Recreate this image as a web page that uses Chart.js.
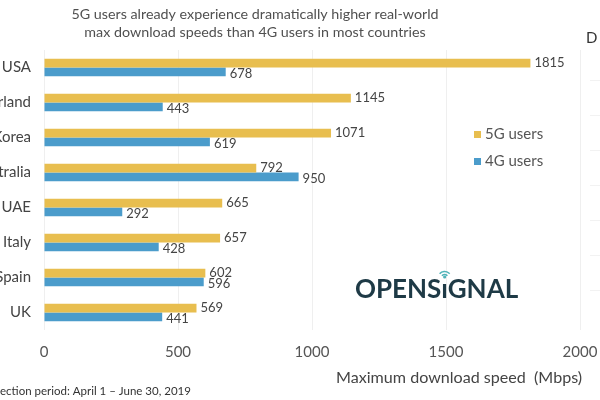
<!DOCTYPE html>
<html>
<head>
<meta charset="utf-8">
<script src="https://cdn.jsdelivr.net/npm/chart.js@4/dist/chart.umd.min.js"></script>
<style>
html,body{margin:0;padding:0;background:#fff;overflow:hidden;width:600px;height:400px;}
#wrap{position:absolute;left:-40px;top:0;width:640px;height:400px;}
</style>
</head>
<body>
<div id="wrap"><canvas id="c" width="640" height="400"></canvas></div>
<script>
const titleLines = ["5G users already experience dramatically higher real-world", "max download speeds than 4G users in most countries"];
const countries = ["USA", "Switzerland", "Korea", "Australia", "UAE", "Italy", "Spain", "UK"];
const users5G = [1815, 1145, 1071, 792, 665, 657, 602, 569];
const users4G = [678, 443, 619, 950, 292, 428, 596, 441];
const seriesNames = ["5G users", "4G users"];
const xTicks = [0, 500, 1000, 1500, 2000];
const xAxisTitle = "Maximum download speed  (Mbps)";
const footnote = "Data collection period: April 1 – June 30, 2019";
const logoText = "OPENSıGNAL";
const sidePanelLetter = "D";

const C5 = "#E8BE4F", C4 = "#4B9CCB";
const OFF = 40; // canvas is shifted left to reproduce the cropped picture
const FONT = "Lato, 'Open Sans', sans-serif";

const extras = {
  id: 'extras',
  afterDatasetsDraw(chart) {
    const ctx = chart.ctx;
    ctx.save();
    ctx.font = "13px " + FONT;
    ctx.fillStyle = "#444";
    ctx.textAlign = "left";
    ctx.textBaseline = "middle";
    chart.data.datasets.forEach((ds, di) => {
      const meta = chart.getDatasetMeta(di);
      meta.data.forEach((bar, i) => {
        const dy = di === 0 ? 0 : 1.5;
        ctx.fillText(String(ds.data[i]), bar.x + 4, bar.y + dy);
      });
    });
    ctx.restore();
  },
  afterDraw(chart) {
    const ctx = chart.ctx;
    ctx.save();
    // title
    ctx.fillStyle = "#505050";
    ctx.font = "14.3px " + FONT;
    ctx.textAlign = "center";
    ctx.textBaseline = "middle";
    ctx.fillText(titleLines[0], OFF + 255, 14);
    ctx.fillText(titleLines[1], OFF + 255, 32);
    // legend
    const lx = OFF + 474, ly = [134.5, 161.5];
    chart.data.datasets.forEach((ds, i) => {
      ctx.fillStyle = ds.backgroundColor;
      ctx.fillRect(lx, ly[i] - 3.5, 7, 7);
      ctx.fillStyle = "#555";
      ctx.textAlign = "left";
      ctx.font = "15px " + FONT;
      ctx.fillText(ds.label, lx + 11, ly[i]);
    });
    // axis title
    ctx.fillStyle = "#444";
    ctx.font = "16.1px " + FONT;
    ctx.textAlign = "left";
    ctx.fillText(xAxisTitle, OFF + 336, 378);
    // footnote
    ctx.font = "11.5px " + FONT;
    ctx.fillStyle = "#333";
    const pre = ctx.measureText("Data coll").width;
    ctx.fillText(footnote, OFF - pre, 391);
    // logo
    ctx.font = "bold 26px " + FONT;
    ctx.fillStyle = "#1E3A46";
    ctx.textAlign = "left";
    ctx.textBaseline = "alphabetic";
    const lxo = OFF + 355;
    ctx.fillText(logoText, lxo, 298);
    const iX = lxo + ctx.measureText("OPENS").width + ctx.measureText("ı").width / 2;
    ctx.fillStyle = "#4FB3B8";
    ctx.strokeStyle = "#4FB3B8";
    ctx.lineWidth = 1.6;
    ctx.beginPath(); ctx.arc(iX, 277, 1.6, 0, Math.PI * 2); ctx.fill();
    [3.5, 6.5].forEach(r => {
      ctx.beginPath(); ctx.arc(iX, 278, r, Math.PI * 1.22, Math.PI * 1.78); ctx.stroke();
    });
    // side panel remnant
    ctx.fillStyle = "#333";
    ctx.font = "15px " + FONT;
    ctx.textBaseline = "middle";
    ctx.fillText(sidePanelLetter, OFF + 586, 38);
    ctx.strokeStyle = "rgba(0,0,0,0.05)";
    ctx.lineWidth = 1;
    [80, 115, 150, 185, 220, 255, 290].forEach(y => {
      ctx.beginPath(); ctx.moveTo(OFF + 590, y + 0.5); ctx.lineTo(OFF + 600, y + 0.5); ctx.stroke();
    });
    ctx.restore();
  }
};

new Chart(document.getElementById('c'), {
  type: 'bar',
  data: {
    labels: countries,
    datasets: [
      { label: seriesNames[0], data: users5G, backgroundColor: C5 },
      { label: seriesNames[1], data: users4G, backgroundColor: C4 }
    ]
  },
  options: {
    indexAxis: 'y',
    responsive: false,
    animation: false,
    devicePixelRatio: 1,
    layout: { padding: { top: 50, right: 20, bottom: 0, left: 0 } },
    datasets: { bar: { categoryPercentage: 0.5, barPercentage: 1 } },
    plugins: { legend: { display: false }, tooltip: { enabled: false } },
    scales: {
      x: {
        min: 0, max: 2000,
        afterBuildTicks: s => { s.ticks = xTicks.map(v => ({ value: v })); },
        afterFit: s => { s.height = 70; s.paddingLeft = 0; s.paddingRight = 0; },
        grid: { color: "#efefef", drawTicks: false },
        border: { display: false },
        ticks: { padding: 13, color: "#555", font: { family: FONT, size: 15 }, callback: v => String(v) }
      },
      y: {
        afterFit: s => { s.width = 84; s.paddingTop = 0; s.paddingBottom = 0; },
        grid: { display: false, drawTicks: false },
        border: { display: false },
        ticks: { padding: 13, color: "#444", font: { family: FONT, size: 15 } }
      }
    }
  },
  plugins: [extras]
});
</script>
</body>
</html>
